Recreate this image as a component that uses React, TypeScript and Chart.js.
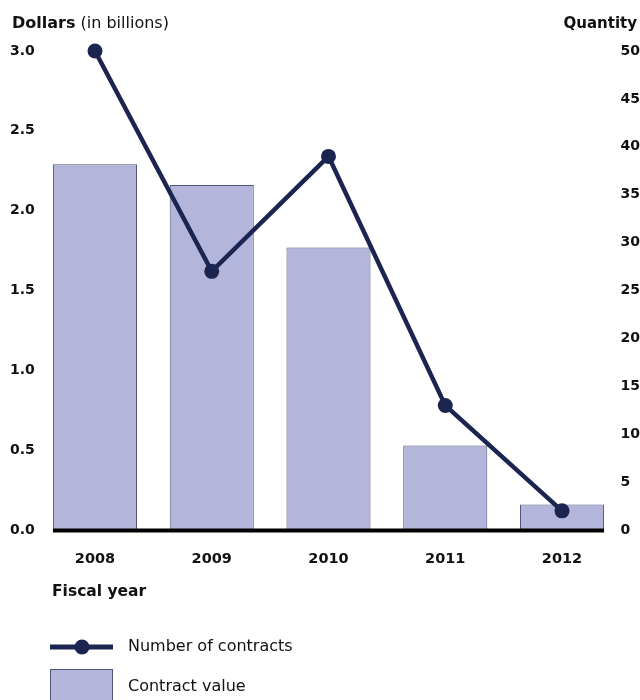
import React, { useEffect, useRef } from "react";
import { Chart, registerables } from "chart.js";

Chart.register(...registerables);

const years = ["2008", "2009", "2010", "2011", "2012"];
const contractValue = [2.29, 2.16, 1.77, 0.53, 0.16];
const numberOfContracts = [50, 27, 39, 13, 2];
const leftTicksMax = 3;
const rightTicksMax = 50;

const FONT = "'DejaVu Sans', sans-serif";
const NAVY = "#1c2550";
const BAR_FILL = "#b3b6da";
const BAR_BORDER = "#4f5576";
const TEXT = "#111";

const decorPlugin = {
  id: "decor",
  afterDatasetsDraw(chart: any) {
    const ctx = chart.ctx;
    const meta = chart.getDatasetMeta(1);
    const bars = meta.data;
    if (!bars.length) return;
    const first = bars[0];
    const last = bars[bars.length - 1];
    const y0 = chart.scales.y.getPixelForValue(0);
    ctx.save();
    ctx.strokeStyle = "#000";
    ctx.lineWidth = 4;
    ctx.beginPath();
    ctx.moveTo(first.x - first.width / 2, y0 + 0.5);
    ctx.lineTo(last.x + last.width / 2, y0 + 0.5);
    ctx.stroke();
    ctx.restore();
  },
  afterDraw(chart: any) {
    const ctx = chart.ctx;
    ctx.save();
    ctx.fillStyle = TEXT;
    ctx.textBaseline = "middle";
    ctx.textAlign = "left";
    ctx.font = `bold 16px ${FONT}`;
    ctx.fillText("Dollars", 12, 24);
    const w = ctx.measureText("Dollars").width;
    ctx.font = `16px ${FONT}`;
    ctx.fillText(" (in billions)", 12 + w, 24);
    ctx.textAlign = "right";
    ctx.font = `bold 15px ${FONT}`;
    ctx.fillText("Quantity", 637, 24);
    ctx.textAlign = "left";
    ctx.font = `bold 15.5px ${FONT}`;
    ctx.fillText("Fiscal year", 52, 592);
    ctx.strokeStyle = NAVY;
    ctx.lineWidth = 5;
    ctx.beginPath();
    ctx.moveTo(50, 647);
    ctx.lineTo(113, 647);
    ctx.stroke();
    ctx.fillStyle = NAVY;
    ctx.beginPath();
    ctx.arc(82, 647, 7.5, 0, Math.PI * 2);
    ctx.fill();
    ctx.fillStyle = BAR_FILL;
    ctx.fillRect(50, 669, 63, 40);
    ctx.strokeStyle = BAR_BORDER;
    ctx.lineWidth = 1;
    ctx.strokeRect(50.5, 669.5, 62, 40);
    ctx.fillStyle = TEXT;
    ctx.font = `16px ${FONT}`;
    ctx.fillText("Number of contracts", 128, 647);
    ctx.fillText("Contract value", 128, 687);
    ctx.restore();
  },
};

export default function App() {
  const ref = useRef<HTMLCanvasElement>(null);
  useEffect(() => {
    const canvas = ref.current;
    if (!canvas) return;
    const chart = new Chart(canvas, {
      type: "bar",
      data: {
        labels: years,
        datasets: [
          {
            type: "line",
            label: "Number of contracts",
            data: numberOfContracts,
            yAxisID: "y1",
            borderColor: NAVY,
            backgroundColor: NAVY,
            borderWidth: 4.5,
            pointRadius: 7.5,
            pointBackgroundColor: NAVY,
            pointBorderWidth: 0,
            tension: 0,
            clip: false,
            order: 0,
          } as any,
          {
            type: "bar",
            label: "Contract value",
            data: contractValue,
            yAxisID: "y",
            backgroundColor: BAR_FILL,
            borderColor: BAR_BORDER,
            borderWidth: 1,
            categoryPercentage: 1,
            barPercentage: 0.72,
            order: 1,
          } as any,
        ],
      },
      options: {
        responsive: false,
        animation: false,
        devicePixelRatio: 1,
        layout: { padding: { left: 10, right: 0, top: 51, bottom: 0 } },
        plugins: {
          legend: { display: false },
          tooltip: { enabled: false },
        },
        scales: {
          x: {
            offset: true,
            grid: { display: false, drawTicks: false },
            border: { display: false },
            ticks: {
              padding: 21,
              color: TEXT,
              font: { family: FONT, size: 14.5, weight: "bold" },
            },
            afterFit: (s: any) => {
              s.height = 170;
            },
          },
          y: {
            position: "left",
            min: 0,
            max: leftTicksMax,
            grid: { display: false, drawTicks: false },
            border: { display: false },
            ticks: {
              stepSize: 0.5,
              crossAlign: "far",
              padding: 0,
              color: TEXT,
              font: { family: FONT, size: 14, weight: "bold" },
              callback: (v: any) => Number(v).toFixed(1),
            },
            afterFit: (s: any) => {
              s.width = 26.6;
            },
          },
          y1: {
            position: "right",
            min: 0,
            max: rightTicksMax,
            grid: { display: false, drawTicks: false },
            border: { display: false },
            ticks: {
              stepSize: 5,
              padding: 0,
              color: TEXT,
              font: { family: FONT, size: 14, weight: "bold" },
            },
            afterFit: (s: any) => {
              s.width = 19.6;
            },
          },
        },
      } as any,
      plugins: [decorPlugin],
    });
    return () => chart.destroy();
  }, []);
  return (
    <div style={{ position: "absolute", left: 0, top: 0, width: 640, height: 700, background: "#fff" }}>
      <canvas ref={ref} width={640} height={700} style={{ display: "block" }} />
    </div>
  );
}
